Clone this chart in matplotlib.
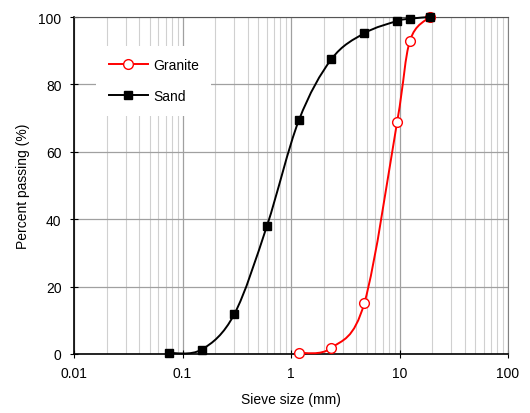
import numpy as np
import matplotlib
matplotlib.use("Agg")
import matplotlib.pyplot as plt
from matplotlib.path import Path
from matplotlib.patches import PathPatch
from matplotlib.lines import Line2D

plt.rcParams['font.family'] = ['Liberation Sans', 'DejaVu Sans']

sand_size = [0.075, 0.15, 0.3, 0.6, 1.18, 2.36, 4.75, 9.5, 12.5, 19.0]
sand_pass = [0.3, 1.3, 11.8, 38.0, 69.3, 87.5, 95.2, 98.8, 99.5, 100.0]

granite_size = [1.18, 2.36, 4.75, 9.5, 12.5, 19.0]
granite_pass = [0.3, 1.8, 15.2, 68.8, 93.0, 100.0]


def smooth_path(xs, ys):
    # excel-style smoothed line: bezier through the points, built in log-x space
    lx = np.log10(xs)
    y = np.asarray(ys, float)
    n = len(lx)
    verts = [(xs[0], y[0])]
    codes = [Path.MOVETO]
    for i in range(n - 1):
        p0 = (lx[max(i - 1, 0)], y[max(i - 1, 0)])
        p1 = (lx[i], y[i])
        p2 = (lx[i + 1], y[i + 1])
        p3 = (lx[min(i + 2, n - 1)], y[min(i + 2, n - 1)])
        c1 = (p1[0] + (p2[0] - p0[0]) / 6, p1[1] + (p2[1] - p0[1]) / 6)
        c2 = (p2[0] - (p3[0] - p1[0]) / 6, p2[1] - (p3[1] - p1[1]) / 6)
        for c in (c1, c2, p2):
            verts.append((10 ** c[0], c[1]))
            codes.append(Path.CURVE4)
    return Path(verts, codes)


fig = plt.figure(figsize=[5.3, 4.14], dpi=100)
ax = fig.add_axes([74 / 530, 1 - 355 / 414, 434 / 530, 337 / 414])
ax.set_xscale('log')
ax.set_xlim(0.01, 100)
ax.set_ylim(0, 100)

ax.grid(True, which='major', axis='both', color='#a0a0a0', linewidth=0.9)
ax.grid(True, which='minor', axis='x', color='#d0d0d0', linewidth=0.8)
ax.set_axisbelow(True)

ax.add_patch(PathPatch(smooth_path(granite_size, granite_pass), facecolor='none',
                       edgecolor='red', linewidth=1.4, zorder=3, clip_on=False))
ax.plot(granite_size, granite_pass, linestyle='none', marker='o', markersize=7,
        markerfacecolor='white', markeredgecolor='red', markeredgewidth=1.0,
        zorder=4, clip_on=False)
ax.add_patch(PathPatch(smooth_path(sand_size, sand_pass), facecolor='none',
                       edgecolor='black', linewidth=1.4, zorder=5, clip_on=False))
ax.plot(sand_size, sand_pass, linestyle='none', marker='s', markersize=6,
        color='black', zorder=6, clip_on=False)

ax.set_xticks([0.01, 0.1, 1, 10, 100])
ax.set_xticklabels(['0.01', '0.1', '1', '10', '100'])
ax.set_yticks([0, 20, 40, 60, 80, 100])
ax.tick_params(axis='both', which='major', direction='inout', length=6,
               width=0.8, labelsize=10, pad=6)
ax.tick_params(axis='x', which='minor', length=0)

ax.spines['left'].set_linewidth(1.2)
ax.spines['bottom'].set_linewidth(1.2)
ax.spines['top'].set_color('#555555')
ax.spines['right'].set_color('#808080')

ax.set_xlabel('Sieve size (mm)', fontsize=10, labelpad=8)
ax.set_ylabel('Percent passing (%)', fontsize=10, labelpad=6)

handles = [
    Line2D([], [], color='red', linewidth=1.4, marker='o', markersize=7,
           markerfacecolor='white', markeredgecolor='red'),
    Line2D([], [], color='black', linewidth=1.4, marker='s', markersize=6),
]
leg = ax.legend(handles, ['Granite', 'Sand'], loc='upper left',
                bbox_to_anchor=(0.035, 0.935), frameon=True, fancybox=False,
                edgecolor='none', framealpha=1.0, fontsize=10,
                handlelength=2.8, labelspacing=1.2, borderpad=0.9,
                handletextpad=0.4)
leg.set_zorder(10)

fig.savefig('out.png', dpi=100)
